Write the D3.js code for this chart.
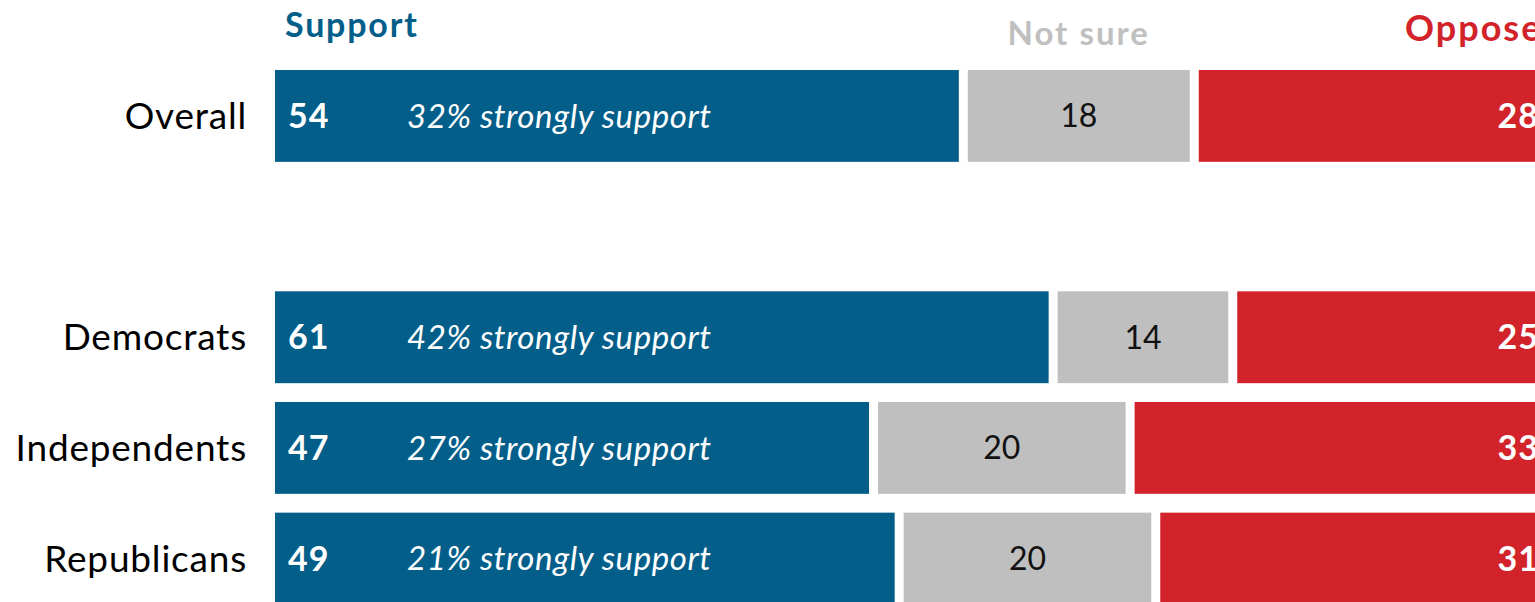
<!DOCTYPE html>
<html>
  <head>
    <meta charset="utf-8">
    <title>support / not sure / oppose</title>
    <script src="https://cdnjs.cloudflare.com/ajax/libs/d3/7.8.5/d3.min.js"></script>
    <style type="text/css">
      html, body { margin: 0; padding: 0; background: #fff; }
      svg { display: block; font-family: Lato, "Noto Sans", sans-serif; }
    </style>
  </head>
  <body>
    <div id="chart"></div>
    <script type="text/javascript">

      // data
      var groups   = ["Overall", "Democrats", "Independents", "Republicans"];
      var support  = [54, 61, 47, 49];
      var notSure  = [18, 14, 20, 20];
      var oppose   = [28, 25, 33, 31];
      var strongly = [32, 42, 27, 21];
      var headers  = ["Support", "Not sure", "Oppose"];

      // rows, with an empty slot after "Overall"
      var rows = ["Overall", "_gap", "Democrats", "Independents", "Republicans"];

      var w = 1535;
      var h = 602;
      var gap = 9;   // white gap between segments

      var colors = { support: "#035e8a", notSure: "#bfbfbf", oppose: "#d2232a" };

      var svg = d3.select("#chart")
        .append("svg")
        .attr("width", w)
        .attr("height", h);

      // the chart runs off the right edge, like the picture
      var x = d3.scaleLinear().domain([0, 100]).range([275, 1558]);
      var y = d3.scaleBand().domain(rows).range([70, 604.5]).paddingInner(0.17).paddingOuter(0);

      var data = groups.map(function (g, i) {
        return { name: g, support: support[i], notSure: notSure[i], oppose: oppose[i], strong: strongly[i] };
      });

      var row = svg.selectAll("g.row")
        .data(data)
        .enter()
        .append("g")
        .attr("class", "row")
        .attr("transform", function (d) { return "translate(0," + y(d.name) + ")"; });

      var bh = y.bandwidth();
      var mid = bh / 2;

      // one rect per segment
      var keys = ["support", "notSure", "oppose"];
      keys.forEach(function (k, ki) {
        row.append("rect")
          .attr("x", function (d) {
            var start = 0;
            for (var j = 0; j < ki; j++) start += d[keys[j]];
            return x(start);
          })
          .attr("y", 0)
          .attr("height", bh)
          .attr("width", function (d) {
            var start = 0;
            for (var j = 0; j < ki; j++) start += d[keys[j]];
            return x(start + d[k]) - x(start) - gap;
          })
          .attr("fill", colors[k]);
      });

      // group names
      row.append("text")
        .text(function (d) { return d.name; })
        .attr("x", x(0) - 28)
        .attr("y", mid)
        .attr("dy", "0.35em")
        .attr("text-anchor", "end")
        .attr("font-size", "37px")
        .attr("letter-spacing", "0.8px")
        .attr("fill", "#000");

      // support value
      row.append("text")
        .text(function (d) { return d.support; })
        .attr("x", x(0) + 13)
        .attr("y", mid)
        .attr("dy", "0.36em")
        .attr("font-size", "34px")
        .attr("letter-spacing", "1px")
        .attr("font-weight", "bold")
        .attr("fill", "#fff");

      // strongly support note
      row.append("text")
        .text(function (d) { return d.strong + "% strongly support"; })
        .attr("x", x(0) + 132)
        .attr("y", mid)
        .attr("dy", "0.36em")
        .attr("font-size", "33px")
        .attr("letter-spacing", "0.6px")
        .attr("font-style", "italic")
        .attr("fill", "#fff");

      // not sure value, centred in its segment
      row.append("text")
        .text(function (d) { return d.notSure; })
        .attr("x", function (d) { return (x(d.support) + x(d.support + d.notSure) - gap) / 2; })
        .attr("y", mid)
        .attr("dy", "0.36em")
        .attr("text-anchor", "middle")
        .attr("font-size", "32px")
        .attr("fill", "#111");

      // oppose value, at the right end
      row.append("text")
        .text(function (d) { return d.oppose; })
        .attr("x", x(100) - gap - 10)
        .attr("y", mid)
        .attr("dy", "0.36em")
        .attr("text-anchor", "end")
        .attr("font-size", "34px")
        .attr("letter-spacing", "1px")
        .attr("font-weight", "bold")
        .attr("fill", "#fff");

      // column headers above the overall bar
      var o = data[0];
      svg.append("text")
        .text(headers[0])
        .attr("x", x(0) + 10)
        .attr("y", 37)
        .attr("font-size", "34px")
        .attr("letter-spacing", "1.8px")
        .attr("font-weight", "bold")
        .attr("fill", colors.support);

      svg.append("text")
        .text(headers[1])
        .attr("x", (x(o.support) + x(o.support + o.notSure) - gap) / 2)
        .attr("y", 45)
        .attr("text-anchor", "middle")
        .attr("font-size", "33px")
        .attr("letter-spacing", "2px")
        .attr("font-weight", "bold")
        .attr("fill", "#c0c0c0");

      svg.append("text")
        .text(headers[2])
        .attr("x", 1405)
        .attr("y", 41)
        .attr("font-size", "36px")
        .attr("letter-spacing", "2px")
        .attr("font-weight", "bold")
        .attr("fill", colors.oppose);

    </script>
  </body>
</html>
